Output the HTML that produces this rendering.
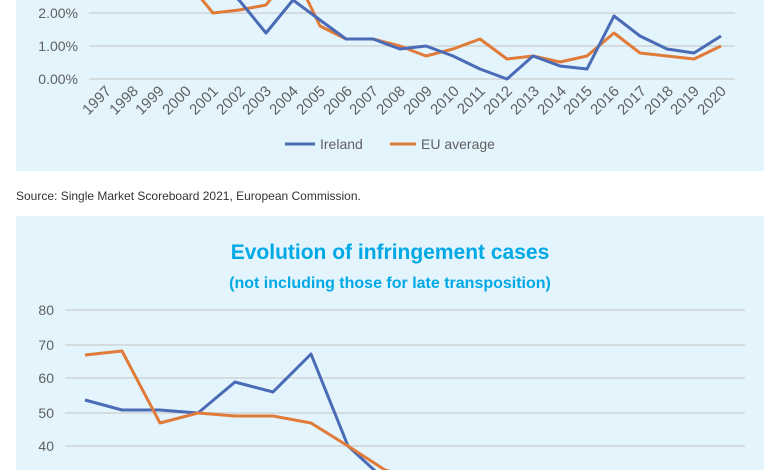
<!DOCTYPE html>
<html><head><style>
body{margin:0;width:780px;height:470px;background:#fff;overflow:hidden;font-family:"Liberation Sans",sans-serif}
</style></head><body>
<svg width="780" height="470" xmlns="http://www.w3.org/2000/svg" font-family="Liberation Sans, sans-serif">
<rect x="16" y="0" width="748" height="171" fill="#e3f4fc"/>
<g stroke="#cfd3d6" stroke-width="1.5">
<line x1="89" y1="13" x2="735" y2="13"/><line x1="89" y1="46" x2="735" y2="46"/><line x1="89" y1="79" x2="735" y2="79"/>
</g>
<g fill="#5f6061" font-size="14" text-anchor="end">
<text x="78" y="18">2.00%</text><text x="78" y="51">1.00%</text><text x="78" y="84">0.00%</text>
</g>
<g fill="#5f6061" font-size="15" text-anchor="end">
<text transform="translate(112,92) rotate(-45)">1997</text><text transform="translate(139,92) rotate(-45)">1998</text><text transform="translate(165,92) rotate(-45)">1999</text><text transform="translate(192,92) rotate(-45)">2000</text><text transform="translate(219,92) rotate(-45)">2001</text><text transform="translate(246,92) rotate(-45)">2002</text><text transform="translate(272,92) rotate(-45)">2003</text><text transform="translate(299,92) rotate(-45)">2004</text><text transform="translate(326,92) rotate(-45)">2005</text><text transform="translate(353,92) rotate(-45)">2006</text><text transform="translate(379,92) rotate(-45)">2007</text><text transform="translate(406,92) rotate(-45)">2008</text><text transform="translate(433,92) rotate(-45)">2009</text><text transform="translate(460,92) rotate(-45)">2010</text><text transform="translate(486,92) rotate(-45)">2011</text><text transform="translate(513,92) rotate(-45)">2012</text><text transform="translate(540,92) rotate(-45)">2013</text><text transform="translate(567,92) rotate(-45)">2014</text><text transform="translate(593,92) rotate(-45)">2015</text><text transform="translate(620,92) rotate(-45)">2016</text><text transform="translate(647,92) rotate(-45)">2017</text><text transform="translate(674,92) rotate(-45)">2018</text><text transform="translate(700,92) rotate(-45)">2019</text><text transform="translate(727,92) rotate(-45)">2020</text>
</g>
<clipPath id="c1"><rect x="16" y="0" width="748" height="171"/></clipPath>
<g clip-path="url(#c1)" fill="none" stroke-width="3" stroke-linejoin="round">
<polyline stroke="#e07b39" points="186,-20 213,13 239,10 266,5 293,-30 320,26 346,39 373,39 400,46 426,56 453,49 480,39 507,59 533,56 560,62 587,56 614,33 640,53 667,56 694,59 721,46"/>
<polyline stroke="#4a6bb5" points="213,-20 239,0 266,33 293,0 320,20 346,39 373,39 400,49 426,46 453,56 480,69 507,79 533,56 560,66 587,69 614,16 640,36 667,49 694,53 721,36"/>
</g>
<line x1="285" y1="144" x2="315" y2="144" stroke="#4a6bb5" stroke-width="3"/>
<text x="320" y="149" fill="#5f6061" font-size="14">Ireland</text>
<line x1="390" y1="144" x2="416" y2="144" stroke="#e07b39" stroke-width="3"/>
<text x="421" y="149" fill="#5f6061" font-size="14">EU average</text>
<text x="16" y="200" fill="#333" font-size="12">Source: Single Market Scoreboard 2021, European Commission.</text>

<rect x="16" y="216" width="748" height="260" fill="#e3f4fc"/>
<text x="390" y="259" text-anchor="middle" fill="#00a9e6" font-size="21" font-weight="bold">Evolution of infringement cases</text>
<text x="390" y="288" text-anchor="middle" fill="#00a9e6" font-size="16" font-weight="bold">(not including those for late transposition)</text>
<g stroke="#cfd3d6" stroke-width="1.5">
<line x1="65" y1="310" x2="745" y2="310"/><line x1="65" y1="345" x2="745" y2="345"/><line x1="65" y1="378" x2="745" y2="378"/><line x1="65" y1="413" x2="745" y2="413"/><line x1="65" y1="446" x2="745" y2="446"/>
</g>
<g fill="#5f6061" font-size="14" text-anchor="end">
<text x="54" y="315">80</text><text x="54" y="350">70</text><text x="54" y="383">60</text><text x="54" y="418">50</text><text x="54" y="451">40</text>
</g>
<g fill="none" stroke-width="3" stroke-linejoin="round">
<polyline stroke="#4a6bb5" points="85,400 122,410 160,410 198,413 235,382 273,392 311,354 348,446 385,480"/>
<polyline stroke="#e07b39" points="85,355 122,351 160,423 198,413 235,416 273,416 311,423 348,446 385,470 420,480"/>
</g>
</svg>
</body></html>
